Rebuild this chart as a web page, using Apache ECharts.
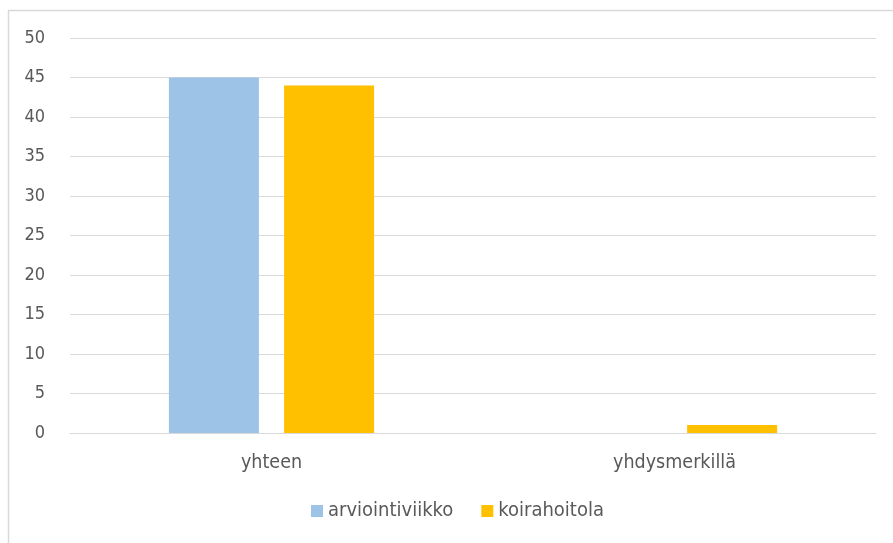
<!DOCTYPE html>
<html>
<head>
<meta charset="utf-8">
<script src="https://cdn.jsdelivr.net/npm/echarts@6/dist/echarts.min.js"></script>
<style>
  html, body { margin: 0; padding: 0; background: #fff; }
  #chart { width: 893px; height: 543px; }
</style>
</head>
<body>
<div id="chart"></div>
<script>
// Categories and series values
const categories = ['yhteen', 'yhdysmerkillä'];
const seriesNames = ['arviointiviikko', 'koirahoitola'];
const arviointiviikko = [45, 0];
const koirahoitola = [44, 1];
const yTicks = [0, 5, 10, 15, 20, 25, 30, 35, 40, 45, 50];

const FONT = '"DejaVu Sans Condensed", "DejaVu Sans", sans-serif';
const TEXT = '#595959';

const chart = echarts.init(document.getElementById('chart'), null, { renderer: 'canvas' });
chart.setOption({
  animation: false,
  backgroundColor: '#ffffff',
  textStyle: { fontFamily: FONT },
  graphic: [{
    type: 'rect',
    shape: { x: 8.5, y: 10.5, width: 900, height: 540 },
    style: { fill: 'none', stroke: '#d9d9d9', lineWidth: 1.5 },
    silent: true, z: -10
  }],
  grid: { left: 70, right: 17, top: 38, bottom: 110 },
  legend: {
    data: seriesNames,
    bottom: 17,
    left: 306,
    itemWidth: 12,
    itemHeight: 12,
    itemGap: 28,
    icon: 'rect',
    textStyle: { color: TEXT, fontSize: 20, fontFamily: FONT }
  },
  xAxis: {
    type: 'category',
    data: categories,
    axisLine: { lineStyle: { color: '#d9d9d9' } },
    axisTick: { show: false },
    axisLabel: { color: TEXT, fontSize: 19.5, fontFamily: FONT, margin: 20 }
  },
  yAxis: {
    type: 'value',
    min: yTicks[0],
    max: yTicks[yTicks.length - 1],
    interval: 5,
    axisLine: { show: false },
    axisTick: { show: false },
    axisLabel: { color: TEXT, fontSize: 18, fontFamily: FONT, margin: 25 },
    splitLine: { lineStyle: { color: '#d9d9d9', width: 1 } }
  },
  series: [
    {
      name: seriesNames[0],
      type: 'bar',
      data: arviointiviikko,
      barWidth: 90,
      barGap: '28%',
      itemStyle: { color: '#9dc3e6' }
    },
    {
      name: seriesNames[1],
      type: 'bar',
      data: koirahoitola,
      barWidth: 90,
      itemStyle: { color: '#ffc000' }
    }
  ]
});
</script>
</body>
</html>
